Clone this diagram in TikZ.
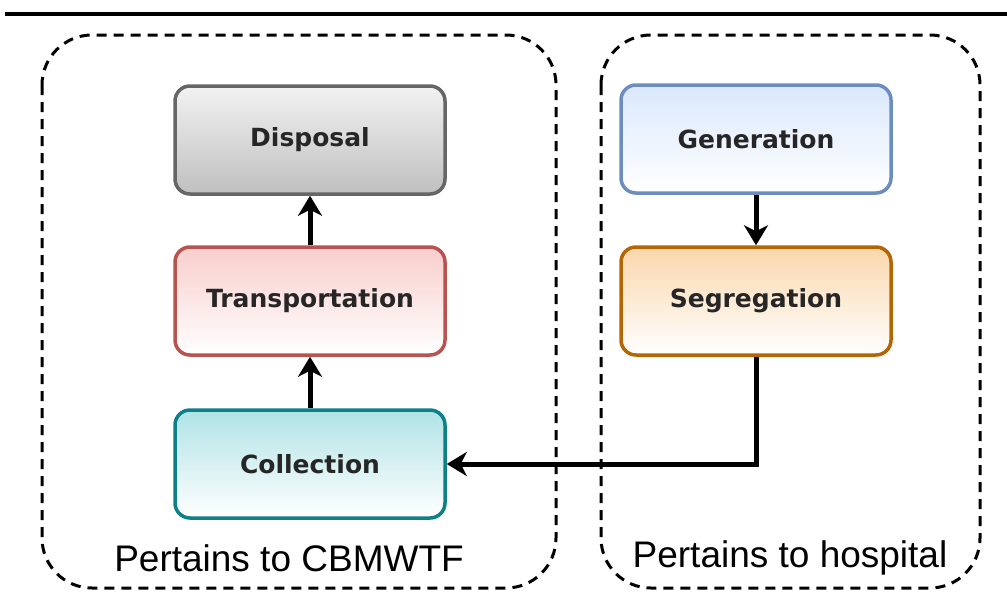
\documentclass[tikz,border=0pt]{standalone}
\usepackage{fontspec}
\setmainfont{Liberation Sans}
\newfontfamily\boxfont{DejaVu Sans}
\usetikzlibrary{arrows.meta}
\begin{document}
\begin{tikzpicture}[x=1pt, y=-1pt,
  stage/.style={rounded corners=15pt, line width=3.5pt, minimum width=270pt, minimum height=108pt,
    font=\boxfont\bfseries\fontsize{25}{30}\selectfont, text=black!85},
  area/.style={dashed, line width=3pt, dash pattern=on 10pt off 7pt, rounded corners=50pt},
  flow/.style={line width=5pt, -{Stealth[length=20pt, width=24pt, inset=6pt]}},
  tag/.style={font=\fontsize{37}{42}\selectfont}]
\useasboundingbox (0,0) rectangle (1007,603);
\draw [line width=4.5pt] (5,14) -- (1007,14);
\draw [area] (42,35) rectangle (556,588);
\draw [area] (601,35) rectangle (980,588);
\node [stage, draw=black!60, top color=black!5, bottom color=black!25] (disp) at (310,140) {Disposal};
\node [stage, draw={rgb,255:red,184;green,84;blue,80}, top color={rgb,255:red,248;green,206;blue,204}, bottom color=white] (trans) at (310,301) {Transportation};
\node [stage, draw={rgb,255:red,14;green,128;blue,136}, top color={rgb,255:red,176;green,227;blue,230}, bottom color=white] (coll) at (310,464) {Collection};
\node [stage, draw={rgb,255:red,108;green,142;blue,191}, top color={rgb,255:red,218;green,232;blue,252}, bottom color=white] (gen) at (756,139) {Generation};
\node [stage, draw={rgb,255:red,180;green,101;blue,4}, top color={rgb,255:red,250;green,215;blue,172}, bottom color=white] (seg) at (756,301) {Segregation};
\draw [flow] (coll) -- (trans);
\draw [flow] (trans) -- (disp);
\draw [flow] (gen) -- (seg);
\draw [flow] (seg.south) |- (coll.east);
\node [tag] (cbm) at (289,558) {Pertains to CBMWTF};
\node [tag] (hosp) at (790,558) {Pertains to hospital};
\end{tikzpicture}
\end{document}
